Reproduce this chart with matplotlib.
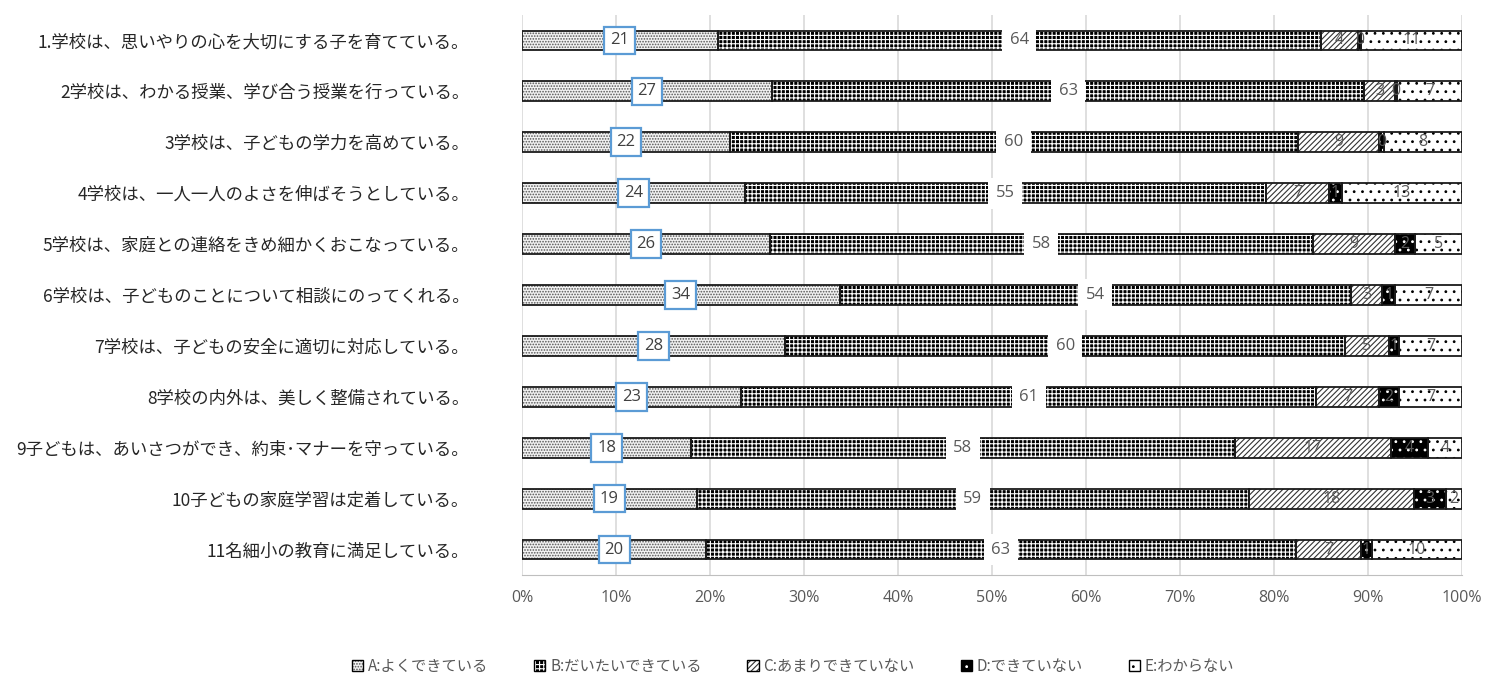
import matplotlib
matplotlib.use("Agg")
import matplotlib.pyplot as plt
import numpy as np

plt.rcParams['font.family'] = ['Noto Sans CJK JP', 'DejaVu Sans']

categories = [
    "1.学校は、思いやりの心を大切にする子を育てている。",
    "2学校は、わかる授業、学び合う授業を行っている。",
    "3学校は、子どもの学力を高めている。",
    "4学校は、一人一人のよさを伸ばそうとしている。",
    "5学校は、家庭との連絡をきめ細かくおこなっている。",
    "6学校は、子どものことについて相談にのってくれる。",
    "7学校は、子どもの安全に適切に対応している。",
    "8学校の内外は、美しく整備されている。",
    "9子どもは、あいさつができ、約束･マナーを守っている。",
    "10子どもの家庭学習は定着している。",
    "11名細小の教育に満足している。",
]
series_names = ["A:よくできている", "B:だいたいできている", "C:あまりできていない",
                "D:できていない", "E:わからない"]
A = [20.8, 26.6, 22.1, 23.7, 26.4, 33.8, 28.0, 23.3, 18.0, 18.6, 19.6]
B = [64.2, 63.0, 60.4, 55.4, 57.7, 54.4, 59.6, 61.2, 57.8, 58.7, 62.7]
C = [3.9, 3.3, 8.7, 6.8, 8.8, 3.3, 4.6, 6.7, 16.6, 17.6, 7.0]
D = [0.4, 0.2, 0.45, 1.3, 2.1, 1.4, 1.1, 2.1, 4.0, 3.4, 1.1]
E = [10.7, 6.9, 8.35, 12.8, 5.0, 7.1, 6.7, 6.7, 3.6, 1.7, 9.6]
xtick_labels = ["0%", "10%", "20%", "30%", "40%", "50%", "60%", "70%", "80%", "90%", "100%"]

series = [A, B, C, D, E]
styles = [
    dict(face="#f2f2f2", hatchcol="#555555", hatch="......"),
    dict(face="black", hatchcol="white", hatch="++++"),
    dict(face="white", hatchcol="#333333", hatch="//////"),
    dict(face="black", hatchcol="white", hatch=".."),
    dict(face="white", hatchcol="black", hatch=".."),
]

fig = plt.figure(figsize=(14.87, 6.76), dpi=100)
ax = fig.add_axes([522/1487, 1-575/676, 940/1487, 560/676])
plt.rcParams['hatch.linewidth'] = 0.8

y = np.arange(len(categories))
h = 0.39
left = np.zeros(len(categories))
for s, st, name in zip(series, styles, series_names):
    vals = np.array(s)
    ax.barh(y, vals, left=left, height=h, color=st["face"], edgecolor=st["hatchcol"],
            hatch=st["hatch"], linewidth=0, zorder=2)
    ax.barh(y, vals, left=left, height=h, fill=False, edgecolor="#1a1a1a",
            linewidth=1.3, zorder=3)
    left = left + vals

# data labels
left = np.zeros(len(categories))
for k, s in enumerate(series):
    vals = np.array(s)
    for i, v in enumerate(vals):
        cx = left[i] + v / 2
        lbl = "%d" % int(round(v))
        if k == 0:
            ax.text(cx, i, lbl, ha="center", va="center", fontsize=12, color="#404040",
                    family=["Open Sans", "DejaVu Sans"], zorder=5,
                    bbox=dict(boxstyle="square,pad=0.35", facecolor="white",
                              edgecolor="#5B9BD5", linewidth=1.6))
        elif k == 1:
            ax.text(cx, i, lbl, ha="center", va="center", fontsize=12, color="#595959",
                    family=["Open Sans", "DejaVu Sans"], zorder=5,
                    bbox=dict(boxstyle="square,pad=0.45", facecolor="white",
                              edgecolor="none"))
        else:
            ax.text(cx, i, lbl, ha="center", va="center", fontsize=11.5, color="#595959",
                    family=["Open Sans", "DejaVu Sans"], zorder=5)
    left = left + vals

ax.set_xlim(0, 100)
ax.set_ylim(len(categories) - 0.5, -0.5)
ax.set_xticks(np.arange(0, 101, 10))
ax.set_xticklabels(xtick_labels, fontsize=11.5, color="#595959",
                   family=["Open Sans", "DejaVu Sans"])
ax.set_yticks(y)
ax.set_yticklabels(categories, fontsize=12.5, color="#262626")
ax.tick_params(axis="x", length=0, pad=11)
ax.tick_params(axis="y", length=0, pad=38)
ax.grid(axis="x", color="#d9d9d9", linewidth=1.2, zorder=0)
ax.set_axisbelow(True)
for sp in ["top", "right", "left"]:
    ax.spines[sp].set_visible(False)
ax.spines["bottom"].set_color("#bfbfbf")

# legend proxies: hatch-coloured square plus black outline
from matplotlib.legend_handler import HandlerBase
from matplotlib.patches import Rectangle


class HatchBox(HandlerBase):
    def __init__(self, st):
        super().__init__()
        self.st = st

    def create_artists(self, legend, orig_handle, xdescent, ydescent, width, height,
                       fontsize, trans):
        side = min(width, height)
        x0 = -xdescent + (width - side) / 2
        y0 = -ydescent + (height - side) / 2
        inner = Rectangle((x0, y0), side, side, facecolor=self.st["face"],
                          edgecolor=self.st["hatchcol"], hatch=self.st["hatch"],
                          linewidth=0, transform=trans)
        outer = Rectangle((x0, y0), side, side, fill=False, edgecolor="black",
                          linewidth=1.0, transform=trans)
        return [inner, outer]


proxies = [Rectangle((0, 0), 1, 1) for _ in styles]
handler_map = {p: HatchBox(st) for p, st in zip(proxies, styles)}
fig.legend(proxies, series_names, handler_map=handler_map, loc="center",
           bbox_to_anchor=(793/1487, 1-666/676), ncol=5, frameon=False, fontsize=11,
           labelcolor="#595959", handlelength=0.75, handleheight=0.75,
           handletextpad=0.3, columnspacing=3.0)

fig.savefig("out.png", dpi=100)
